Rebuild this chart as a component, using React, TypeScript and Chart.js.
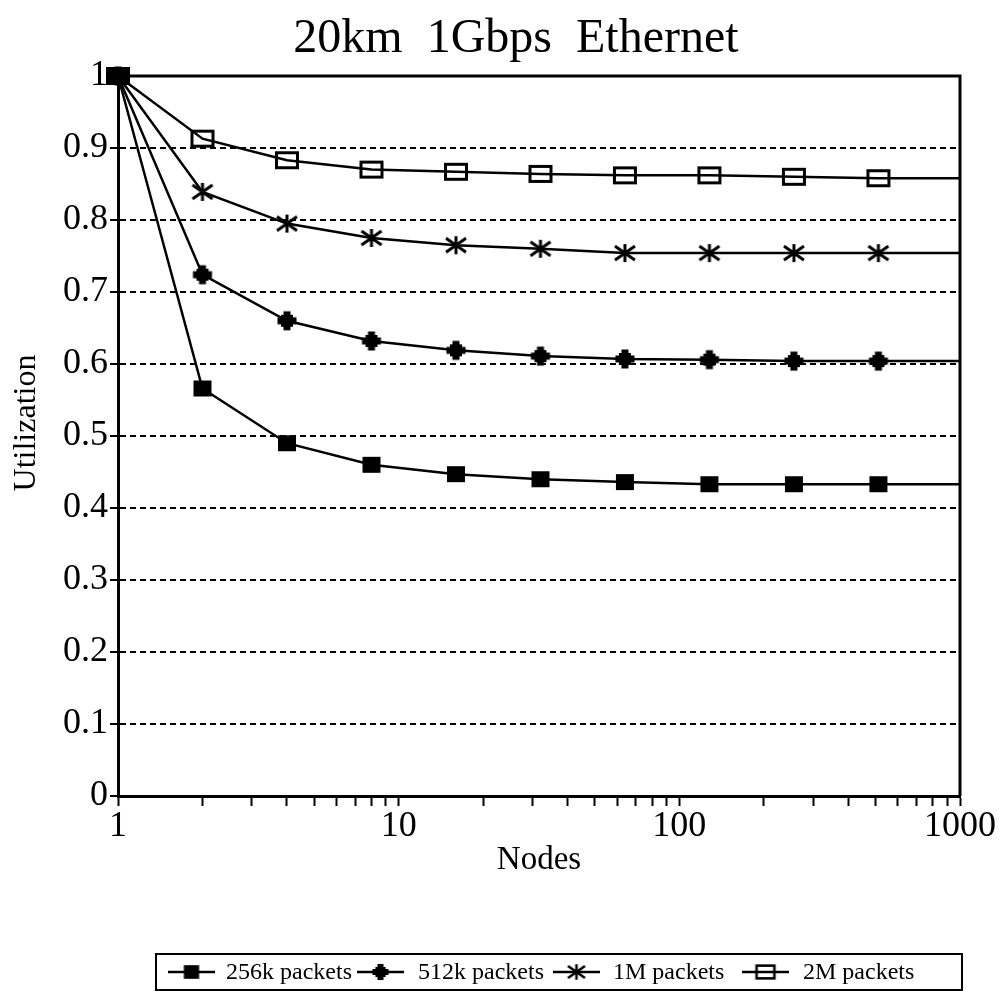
import React, { useEffect, useRef } from "react";
import { Chart, registerables } from "chart.js";

Chart.register(...registerables);

// ---------- data ----------
const chartTitle = "20km  1Gbps  Ethernet";
const xAxisTitle = "Nodes";
const yAxisTitle = "Utilization";

const nodes = [1, 2, 4, 8, 16, 32, 64, 128, 256, 512, 1024];
const util256k = [1.0, 0.566, 0.49, 0.46, 0.447, 0.44, 0.436, 0.433, 0.433, 0.433, 0.433];
const util512k = [1.0, 0.724, 0.66, 0.632, 0.619, 0.611, 0.607, 0.606, 0.604, 0.604, 0.604];
const util1M = [1.0, 0.839, 0.795, 0.775, 0.765, 0.76, 0.754, 0.754, 0.754, 0.754, 0.754];
const util2M = [1.0, 0.913, 0.883, 0.87, 0.867, 0.864, 0.862, 0.862, 0.86, 0.858, 0.858];
const seriesLabels = ["256k packets", "512k packets", "1M packets", "2M packets"];

const xTickValues = [1, 2, 3, 4, 5, 6, 7, 8, 9, 10, 20, 30, 40, 50, 60, 70, 80, 90, 100, 200, 300, 400, 500, 600, 700, 800, 900, 1000];
const xLabelValues = [1, 10, 100, 1000];
const xTickLabels = ["1", "10", "100", "1000"];
const yTickValues = [0, 0.1, 0.2, 0.3, 0.4, 0.5, 0.6, 0.7, 0.8, 0.9, 1];
const yTickLabels = ["0", "0.1", "0.2", "0.3", "0.4", "0.5", "0.6", "0.7", "0.8", "0.9", "1"];

// ---------- styles ----------
const FONT = "'Liberation Serif', 'Times New Roman', serif";

function makeMarker(kind: string, s: number): HTMLCanvasElement {
  const c = document.createElement("canvas");
  const w = 26, h = 24;
  c.width = w;
  c.height = h;
  const g = c.getContext("2d")!;
  g.translate(w / 2, h / 2);
  g.scale(s, s);
  g.fillStyle = "#000";
  g.strokeStyle = "#000";
  if (kind === "square") {
    g.fillRect(-9, -8, 18, 16);
  } else if (kind === "plus") {
    g.fillRect(-9.5, -3.5, 19, 7);
    g.fillRect(-3.5, -9.5, 7, 19);
    g.fillRect(-6, -6, 12, 12);
  } else if (kind === "asterisk") {
    g.lineWidth = 3;
    g.beginPath();
    g.moveTo(0, -9);
    g.lineTo(0, 9);
    g.moveTo(-10, -7);
    g.lineTo(10, 7);
    g.moveTo(-10, 7);
    g.lineTo(10, -7);
    g.stroke();
  } else if (kind === "box") {
    g.lineWidth = 3;
    g.strokeRect(-10.5, -7.5, 21, 15);
  }
  return c;
}

const markerKinds = ["square", "plus", "asterisk", "box"];

const decorPlugin = {
  id: "decor",
  beforeDatasetsDraw(chart: any) {
    const { ctx, chartArea } = chart;
    ctx.save();
    ctx.strokeStyle = "#000";
    ctx.lineWidth = 3;
    ctx.beginPath();
    ctx.moveTo(chartArea.left, chartArea.top);
    ctx.lineTo(chartArea.right, chartArea.top);
    ctx.lineTo(chartArea.right, chartArea.bottom);
    ctx.stroke();
    ctx.restore();
  },
  afterDraw(chart: any) {
    const { ctx } = chart;
    ctx.save();
    ctx.fillStyle = "#000";
    // title
    ctx.font = `48px ${FONT}`;
    ctx.textAlign = "center";
    ctx.textBaseline = "middle";
    ctx.fillText(chartTitle, 516, 39);
    // y axis title
    ctx.save();
    ctx.translate(27, 423);
    ctx.rotate(-Math.PI / 2);
    ctx.font = `32px ${FONT}`;
    ctx.fillText(yAxisTitle, 0, 0);
    ctx.restore();
    // legend box
    ctx.strokeStyle = "#000";
    ctx.lineWidth = 2;
    ctx.strokeRect(156, 954, 806, 36);
    const lineStarts = [168, 357, 553, 742];
    const textStarts = [226, 418, 613, 803];
    const ly = 972;
    chart.data.datasets.forEach((ds: any, i: number) => {
      ctx.lineWidth = 2.5;
      ctx.beginPath();
      ctx.moveTo(lineStarts[i], ly);
      ctx.lineTo(lineStarts[i] + 47, ly);
      ctx.stroke();
      const img = legendMarkers[i];
      ctx.drawImage(img, lineStarts[i] + 23.5 - img.width / 2, ly - img.height / 2);
      ctx.font = `24px ${FONT}`;
      ctx.textAlign = "left";
      ctx.textBaseline = "middle";
      ctx.fillText(ds.label, textStarts[i], ly + 1);
    });
    ctx.restore();
  },
};

let legendMarkers: HTMLCanvasElement[] = [];

export default function App() {
  const ref = useRef<HTMLCanvasElement>(null);
  useEffect(() => {
    const plotMarkers = markerKinds.map((k) => makeMarker(k, 1));
    legendMarkers = markerKinds.map((k) => makeMarker(k, 0.85));
    const series = [util256k, util512k, util1M, util2M];
    const last = nodes.length - 1;
    const chart = new Chart(ref.current!, {
      type: "line",
      data: {
        datasets: series.map((vals, i) => ({
          label: seriesLabels[i],
          data: nodes.map((x, j) => ({ x, y: vals[j] })),
          borderColor: "#000",
          borderWidth: 2.5,
          backgroundColor: "#000",
          pointStyle: plotMarkers[i] as any,
          pointRadius: (c: any) => (c.dataIndex === last ? 0 : 9),
          pointHoverRadius: 9,
          tension: 0,
          fill: false,
          clip: { left: 20, top: 20, right: 0, bottom: 0 } as any,
        })),
      },
      options: {
        animation: false,
        responsive: false,
        layout: { padding: { top: 76, left: 0, right: 41, bottom: 100 } },
        plugins: { legend: { display: false }, tooltip: { enabled: false }, title: { display: false } },
        scales: {
          x: {
            type: "logarithmic",
            min: 1,
            max: 1000,
            afterBuildTicks: (s: any) => {
              s.ticks = xTickValues.map((v) => ({ value: v }));
            },
            afterFit: (s: any) => {
              s.height = 102;
            },
            ticks: {
              autoSkip: false,
              maxRotation: 0,
              minRotation: 0,
              padding: -1,
              color: "#000",
              font: { family: FONT, size: 36 },
              callback: (v: any) => {
                const i = xLabelValues.indexOf(Number(v));
                return i >= 0 ? xTickLabels[i] : "";
              },
            },
            grid: { drawOnChartArea: false, drawTicks: true, tickLength: 10, tickWidth: 2, tickColor: "#000", color: "#000" },
            border: { display: true, color: "#000", width: 3 },
            title: { display: true, text: xAxisTitle, color: "#000", font: { family: FONT, size: 33 }, padding: { top: 0, bottom: 18 } },
          },
          y: {
            type: "linear",
            min: 0,
            max: 1,
            afterBuildTicks: (s: any) => {
              s.ticks = yTickValues.map((v) => ({ value: v }));
            },
            afterFit: (s: any) => {
              s.width = 118;
            },
            ticks: {
              padding: 2,
              color: "#000",
              font: { family: FONT, size: 36 },
              callback: (_v: any, i: number) => yTickLabels[i],
            },
            grid: { color: "#000", lineWidth: 2, drawTicks: true, tickLength: 8, tickWidth: 2, tickColor: "#000" },
            border: { display: true, color: "#000", width: 3, dash: [6, 4] },
          },
        },
      },
      plugins: [decorPlugin],
    });
    return () => chart.destroy();
  }, []);
  return (
    <div style={{ position: "absolute", left: 0, top: 0, width: 1001, height: 998, background: "#fff" }}>
      <canvas ref={ref} width={1001} height={998} style={{ display: "block" }} />
    </div>
  );
}
